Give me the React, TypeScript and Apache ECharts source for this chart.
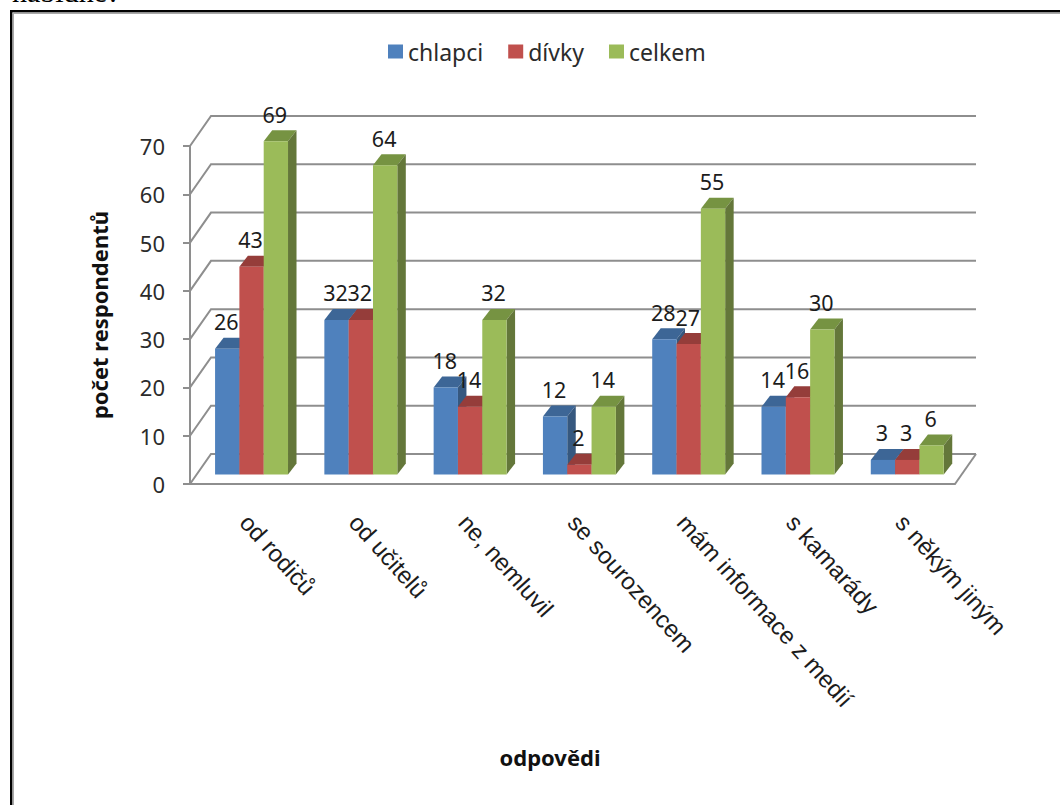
import React, { useEffect, useRef } from "react";
import * as echarts from "echarts";

// Survey answers per group of respondents
const categories = [
  "od rodičů",
  "od učitelů",
  "ne, nemluvil",
  "se sourozencem",
  "mám informace z medií",
  "s kamarády",
  "s někým jiným",
];
const chlapci = [26, 32, 18, 12, 28, 14, 3];
const divky = [43, 32, 14, 2, 27, 16, 3];
const celkem = [69, 64, 32, 14, 55, 30, 6];
const seriesNames = ["chlapci", "dívky", "celkem"];
const valueTicks = [0, 10, 20, 30, 40, 50, 60, 70];

const seriesValues = [chlapci, divky, celkem];
const frontColors = ["#4F81BD", "#C0504D", "#9BBB59"];
const topColors = ["#3D6696", "#953D3A", "#769342"];
const sideColors = ["#36587F", "#7F3634", "#64773A"];

// Oblique projection of the chart box
const WALL_DX = 21;
const WALL_DY = 30;
const BAR_SHIFT_X = 6.9;
const BAR_SHIFT_Y = 9.6;
const BAR_DX = 8.5;
const BAR_DY = 11;
const BAR_SHARE = 0.2225;

const GRID_LINE = "#8E8E8E";
const SANS = '"Noto Sans", sans-serif';

function barFrame(api: any, category: number, value: number, seriesIndex: number) {
  const top = api.coord([category, value]);
  const base = api.coord([category, 0]);
  const barWidth = api.size([1, 0])[0] * BAR_SHARE;
  const left = top[0] + BAR_SHIFT_X + (seriesIndex - 1.5) * barWidth;
  return {
    left,
    right: left + barWidth,
    top: top[1] - BAR_SHIFT_Y,
    bottom: base[1] - BAR_SHIFT_Y,
  };
}

const renderWall = (params: any, api: any) => {
  const sys = params.coordSys;
  const value = api.value(1);
  const y = api.coord([0, value])[1];
  const x0 = sys.x;
  const x1 = sys.x + sys.width;
  const lineStyle = { stroke: GRID_LINE, lineWidth: 2, fill: "none" };
  const children: any[] = [
    {
      type: "polyline",
      shape: { points: [[x0, y], [x0 + WALL_DX, y - WALL_DY], [x1 + WALL_DX, y - WALL_DY]] },
      style: lineStyle,
    },
  ];
  if (value === 0) {
    children.push({
      type: "line",
      shape: { x1, y1: y, x2: x1 + WALL_DX, y2: y - WALL_DY },
      style: lineStyle,
    });
  }
  return { type: "group", children };
};

const makeBarRenderer = (seriesIndex: number) => (_params: any, api: any) => {
  const f = barFrame(api, api.value(0), api.value(1), seriesIndex);
  return {
    type: "group",
    children: [
      {
        type: "polygon",
        shape: {
          points: [
            [f.left, f.top],
            [f.left + BAR_DX, f.top - BAR_DY],
            [f.right + BAR_DX, f.top - BAR_DY],
            [f.right, f.top],
          ],
        },
        style: { fill: topColors[seriesIndex] },
      },
      {
        type: "polygon",
        shape: {
          points: [
            [f.right, f.top],
            [f.right + BAR_DX, f.top - BAR_DY],
            [f.right + BAR_DX, f.bottom - BAR_DY],
            [f.right, f.bottom],
          ],
        },
        style: { fill: sideColors[seriesIndex] },
      },
      {
        type: "rect",
        shape: { x: f.left, y: f.top, width: f.right - f.left, height: f.bottom - f.top },
        style: { fill: frontColors[seriesIndex] },
      },
    ],
  };
};

const renderValueLabel = (_params: any, api: any) => {
  const value = api.value(1);
  const f = barFrame(api, api.value(0), value, api.value(2));
  return {
    type: "text",
    style: {
      text: String(value),
      x: (f.left + f.right) / 2 - 1,
      y: f.top - 27,
      align: "center",
      verticalAlign: "middle",
      fill: "#1c1c1c",
      font: `21.5px ${SANS}`,
    },
  };
};

export default function App() {
  const ref = useRef<HTMLDivElement>(null);

  useEffect(() => {
    document.body.style.margin = "0";
    const chart = echarts.init(ref.current!, undefined, { renderer: "svg" });
    chart.setOption({
      animation: false,
      backgroundColor: "#ffffff",
      color: frontColors,
      textStyle: { fontFamily: SANS },
      legend: {
        data: seriesNames,
        left: 388,
        top: 40,
        padding: 0,
        itemWidth: 15,
        itemHeight: 14,
        itemGap: 25,
        icon: "rect",
        textStyle: { fontSize: 23, color: "#2b2b2b", fontFamily: SANS },
      },
      grid: { left: 190, right: 105, top: 146, bottom: 321 },
      xAxis: {
        type: "category",
        data: categories,
        axisLine: { show: true, lineStyle: { color: GRID_LINE, width: 2 } },
        axisTick: { show: false },
        axisLabel: {
          interval: 0,
          rotate: -48,
          margin: 34,
          color: "#1c1c1c",
          fontSize: 24,
          fontFamily: '"Liberation Sans", sans-serif',
        },
      },
      yAxis: {
        type: "value",
        min: 0,
        max: 70,
        interval: 10,
        name: "počet respondentů",
        nameLocation: "middle",
        nameGap: 80,
        nameTextStyle: { fontSize: 22, fontWeight: "bold", color: "#111111", fontFamily: SANS },
        axisLine: { show: true, lineStyle: { color: GRID_LINE, width: 2 } },
        axisTick: { show: true, length: 7, lineStyle: { color: GRID_LINE, width: 2 } },
        splitLine: { show: false },
        axisLabel: { margin: 25, fontSize: 22, color: "#2b2b2b", fontFamily: SANS },
      },
      graphic: [
        {
          type: "text",
          x: 550,
          y: 757,
          style: {
            text: "odpovědi",
            align: "center",
            verticalAlign: "middle",
            fill: "#111111",
            font: `bold 22px ${SANS}`,
          },
        },
        {
          type: "text",
          x: 12,
          y: 6,
          style: {
            text: "nabídne?",
            align: "left",
            verticalAlign: "bottom",
            fill: "#000000",
            font: '30px "Liberation Serif", serif',
          },
        },
        // Page frame around the chart: open on the right and at the bottom
        { type: "rect", shape: { x: 10, y: 10, width: 1050, height: 2.5 }, style: { fill: "#000000" } },
        { type: "rect", shape: { x: 10, y: 10, width: 2.5, height: 795 }, style: { fill: "#000000" } },
        { type: "rect", shape: { x: 12.5, y: 12.5, width: 1047.5, height: 1.5 }, style: { fill: "#a8a8a8" } },
        { type: "rect", shape: { x: 12.5, y: 12.5, width: 1.5, height: 792.5 }, style: { fill: "#a8a8a8" } },
      ],
      series: [
        {
          type: "custom",
          name: "stěny",
          silent: true,
          renderItem: renderWall,
          data: valueTicks.map((tick) => [0, tick]),
          z: 1,
        },
        ...seriesNames.map((name, s) => ({
          type: "custom",
          name,
          renderItem: makeBarRenderer(s),
          data: seriesValues[s].map((v, c) => [c, v]),
          itemStyle: { color: frontColors[s] },
          z: 2 + s,
        })),
        {
          type: "custom",
          name: "popisky",
          silent: true,
          renderItem: renderValueLabel,
          data: seriesValues.flatMap((values, s) => values.map((v, c) => [c, v, s])),
          z: 6,
        },
      ],
    });
    return () => chart.dispose();
  }, []);

  return (
    <div
      ref={ref}
      style={{ position: "absolute", left: 0, top: 0, width: 1060, height: 805 }}
    />
  );
}
